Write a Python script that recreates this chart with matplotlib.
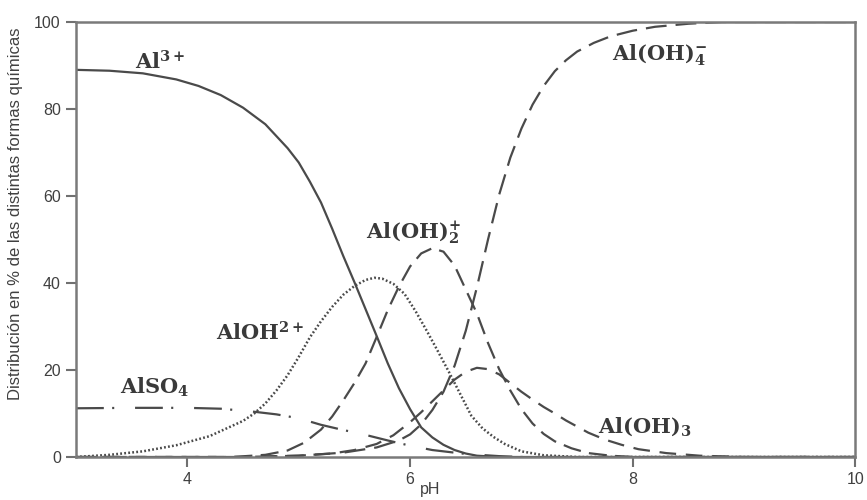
import matplotlib
matplotlib.use("Agg")
import matplotlib.pyplot as plt

plt.rcParams['lines.scale_dashes'] = False
plt.rcParams['mathtext.fontset'] = 'dejavuserif'

# ---------------- data ----------------
ph_al3 = [3.0, 3.3, 3.6, 3.9, 4.1, 4.3, 4.5, 4.7, 4.9, 5.0, 5.1, 5.2, 5.3, 5.4,
          5.5, 5.6, 5.7, 5.8, 5.9, 6.0, 6.1, 6.2, 6.3, 6.4, 6.5, 6.6, 6.8, 10.0]
al3 = [89.0, 88.8, 88.2, 86.8, 85.3, 83.2, 80.3, 76.5, 71.0, 67.7, 63.3, 58.5, 52.5, 46.2,
       40.2, 34.0, 27.8, 21.5, 15.8, 11.0, 6.8, 4.5, 2.8, 1.6, 0.8, 0.3, 0.0, 0.0]

ph_aloh = [3.0, 3.3, 3.6, 3.9, 4.2, 4.5, 4.6, 4.7, 4.8, 4.9, 5.0, 5.1, 5.2, 5.3, 5.4,
           5.5, 5.6, 5.68, 5.75, 5.85, 5.95, 6.05, 6.15, 6.25, 6.35, 6.45, 6.55, 6.65,
           6.75, 6.85, 7.0, 7.2, 7.5, 10.0]
aloh = [0.0, 0.5, 1.3, 2.7, 4.8, 8.3, 10.0, 12.3, 15.3, 18.8, 23.0, 27.5, 31.2, 34.5, 37.3,
        39.3, 40.7, 41.2, 41.0, 39.8, 37.5, 33.5, 29.0, 24.3, 19.5, 14.5, 9.5, 6.6,
        4.6, 3.0, 1.3, 0.4, 0.0, 0.0]

ph_aloh2 = [3.0, 4.4, 4.7, 4.9, 5.05, 5.2, 5.3, 5.4, 5.5, 5.6, 5.7, 5.8, 5.9, 6.0, 6.1,
            6.2, 6.3, 6.4, 6.5, 6.6, 6.7, 6.8, 6.9, 7.0, 7.1, 7.2, 7.3, 7.45, 7.6, 7.8,
            8.0, 10.0]
aloh2 = [0.0, 0.0, 0.5, 1.5, 3.3, 6.3, 9.3, 13.0, 17.0, 21.5, 27.6, 33.8, 39.2, 43.8, 46.8,
         48.0, 47.2, 44.0, 38.5, 33.0, 26.2, 20.2, 15.3, 11.0, 7.7, 5.3, 3.6, 2.0, 0.9, 0.3,
         0.0, 0.0]

ph_aloh3 = [3.0, 4.5, 5.0, 5.3, 5.5, 5.7, 5.85, 6.0, 6.1, 6.2, 6.3, 6.4, 6.5, 6.6, 6.7,
            6.8, 6.9, 7.0, 7.1, 7.2, 7.3, 7.4, 7.5, 7.6, 7.75, 7.9, 8.05, 8.3, 8.6, 9.0, 10.0]
aloh3 = [0.0, 0.0, 0.3, 0.8, 1.6, 3.0, 5.0, 8.0, 10.3, 12.8, 15.3, 17.8, 19.6, 20.5, 20.2,
         19.0, 17.0, 15.0, 13.2, 11.5, 10.0, 8.4, 7.0, 5.6, 4.0, 2.8, 1.8, 0.9, 0.3, 0.0, 0.0]

ph_aloh4 = [3.0, 4.5, 5.0, 5.4, 5.7, 5.9, 6.0, 6.1, 6.2, 6.3, 6.4, 6.5, 6.6, 6.7, 6.8,
            6.9, 7.0, 7.1, 7.2, 7.3, 7.4, 7.5, 7.65, 7.8, 8.0, 8.2, 8.5, 8.8, 10.0]
aloh4 = [0.0, 0.0, 0.3, 1.0, 2.2, 3.8, 5.2, 7.5, 10.8, 15.0, 21.0, 29.0, 39.0, 50.0, 60.3,
         68.8, 75.5, 81.0, 85.3, 88.7, 91.2, 93.2, 95.2, 96.7, 98.0, 98.9, 99.6, 100.0, 100.0]

ph_also4 = [3.0, 3.5, 4.0, 4.3, 4.6, 4.8, 5.0, 5.2, 5.4, 5.55, 5.8, 6.0, 6.2, 6.5, 6.8, 7.0, 10.0]
also4 = [11.2, 11.3, 11.3, 11.1, 10.4, 9.8, 8.9, 7.4, 6.2, 5.4, 3.8, 2.6, 1.6, 0.7, 0.2, 0.0, 0.0]

x_ticks = [4, 6, 8, 10]
y_ticks = [0, 20, 40, 60, 80, 100]

# ---------------- figure ----------------
fig = plt.figure(figsize=(8.67, 5.0), dpi=100)
ax = fig.add_axes([0.0877, 0.086, 0.899, 0.87])

lc = '#4a4a4a'
lw = 1.6
ax.plot(ph_al3, al3, color=lc, lw=lw, solid_capstyle='butt')
ax.plot(ph_aloh, aloh, color=lc, lw=1.8, dashes=(1.3, 1.6))
ax.plot(ph_aloh2, aloh2, color=lc, lw=lw, dashes=(13, 6))
ax.plot(ph_aloh3, aloh3, color=lc, lw=lw, dashes=(12, 7))
ax.plot(ph_aloh4, aloh4, color=lc, lw=lw, dashes=(15, 6.5))
ax.plot(ph_also4, also4, color=lc, lw=lw, dashes=(20, 6, 1.5, 15))

ax.set_xlim(3, 10)
ax.set_ylim(0, 100)
ax.set_xticks(x_ticks)
ax.set_yticks(y_ticks)
ax.tick_params(direction='out', length=7, width=1.5, color='#707070',
               labelsize=11.5, labelcolor='#404040', pad=4)
for lab in ax.get_xticklabels() + ax.get_yticklabels():
    lab.set_family('Liberation Sans')
for s in ax.spines.values():
    s.set_color('#7a7a7a')
    s.set_linewidth(1.8)

ax.set_xlabel('pH', fontsize=11.5, color='#404040', family='Liberation Sans')
ax.xaxis.set_label_coords(0.454, -0.058)
ax.set_ylabel('Distribución en % de las distintas formas químicas', fontsize=12,
              color='#404040', family='Liberation Sans')
ax.yaxis.set_label_coords(-0.068, 0.56)

tkw = dict(ha='center', va='center', color='#3a3a3a', family='DejaVu Serif',
           fontweight='bold', fontsize=15)
ax.text(3.75, 90.8, r'Al$^{\mathbf{3+}}$', **tkw)
ax.text(8.24, 92.4, r'Al(OH)$_{\mathbf{4}}^{\mathbf{-}}$', **tkw)
ax.text(6.03, 51.5, r'Al(OH)$_{\mathbf{2}}^{\mathbf{+}}$', **tkw)
ax.text(4.65, 28.5, r'AlOH$^{\mathbf{2+}}$', **tkw)
ax.text(3.71, 15.9, r'AlSO$_{\mathbf{4}}$', **tkw)
ax.text(8.11, 6.9, r'Al(OH)$_{\mathbf{3}}$', **tkw)

fig.savefig('out.png', dpi=100)
